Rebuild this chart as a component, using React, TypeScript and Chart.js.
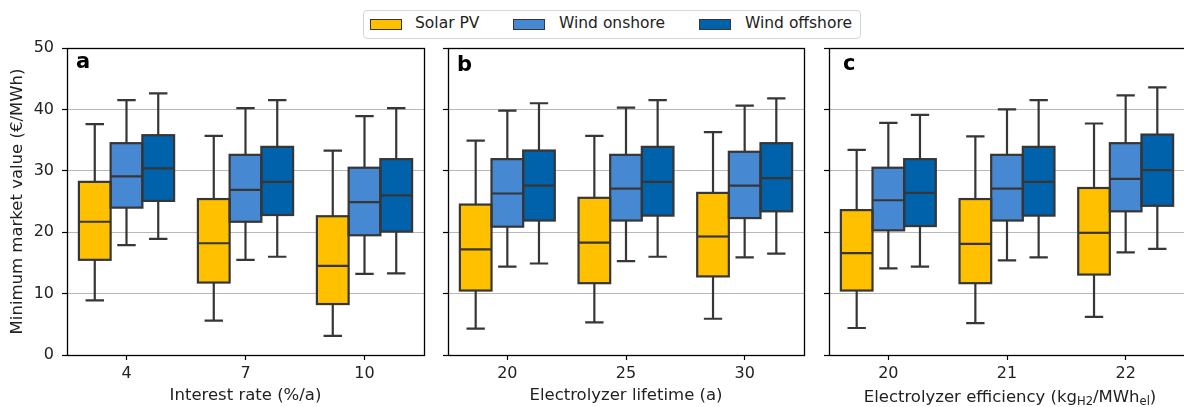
import React, { useEffect, useRef } from 'react';
import { Chart, registerables } from 'chart.js';

Chart.register(...registerables);

const FONT = "'DejaVu Sans', sans-serif";

const seriesNames = ['Solar PV', 'Wind onshore', 'Wind offshore'];
const seriesColors = ['#FFC000', '#4689D2', '#0062AA'];

const catsA = ['4', '7', '10'];
const catsB = ['20', '25', '30'];
const catsC = ['20', '21', '22'];

const yTicks = [0, 10, 20, 30, 40, 50];

// [lower whisker, Q1, median, Q3, upper whisker] for each category
const solarA = [[8.9, 15.5, 21.7, 28.2, 37.6], [5.6, 11.8, 18.2, 25.4, 35.7], [3.1, 8.3, 14.5, 22.6, 33.3]];
const onshoreA = [[17.9, 24.0, 29.1, 34.5, 41.5], [15.5, 21.7, 26.9, 32.6, 40.2], [13.2, 19.5, 24.9, 30.5, 38.9]];
const offshoreA = [[18.9, 25.1, 30.4, 35.8, 42.6], [16.0, 22.8, 28.2, 33.9, 41.5], [13.3, 20.1, 26.0, 31.9, 40.2]];

const solarB = [[4.3, 10.5, 17.2, 24.5, 34.9], [5.3, 11.7, 18.3, 25.6, 35.7], [5.9, 12.8, 19.3, 26.4, 36.3]];
const onshoreB = [[14.4, 20.9, 26.3, 31.9, 39.8], [15.3, 21.9, 27.1, 32.6, 40.3], [15.9, 22.3, 27.6, 33.1, 40.6]];
const offshoreB = [[14.9, 21.9, 27.6, 33.3, 41.0], [16.0, 22.7, 28.2, 33.9, 41.5], [16.5, 23.4, 28.8, 34.5, 41.8]];

const solarC = [[4.4, 10.5, 16.6, 23.6, 33.4], [5.2, 11.7, 18.1, 25.4, 35.6], [6.2, 13.1, 19.9, 27.2, 37.7]];
const onshoreC = [[14.1, 20.3, 25.2, 30.5, 37.8], [15.4, 21.9, 27.1, 32.6, 40.0], [16.7, 23.4, 28.7, 34.5, 42.3]];
const offshoreC = [[14.4, 21.0, 26.4, 31.9, 39.1], [15.9, 22.7, 28.2, 33.9, 41.5], [17.3, 24.3, 30.1, 35.9, 43.6]];

const panelLetters = ['a', 'b', 'c'];
const xTitles = ['Interest rate (%/a)', 'Electrolyzer lifetime (a)', ''];
const yTitle = 'Minimum market value (€/MWh)';

const CANVAS_W = 1186;
const CANVAS_H = 407;

type PanelDef = {
  cats: string[];
  series: number[][][];
  letter: string;
  xTitle: string;
  left: number;
  right: number;
  yAxisWidth: number;
  showYLabels: boolean;
  letterDx: number;
  letterDy: number;
  subTitle: boolean;
};

const panels: PanelDef[] = [
  { cats: catsA, series: [solarA, onshoreA, offshoreA], letter: panelLetters[0], xTitle: xTitles[0], left: 67, right: 424, yAxisWidth: 67, showYLabels: true, letterDx: 9, letterDy: 20, subTitle: false },
  { cats: catsB, series: [solarB, onshoreB, offshoreB], letter: panelLetters[1], xTitle: xTitles[1], left: 448, right: 804, yAxisWidth: 10, showYLabels: false, letterDx: 9, letterDy: 23, subTitle: false },
  { cats: catsC, series: [solarC, onshoreC, offshoreC], letter: panelLetters[2], xTitle: xTitles[2], left: 829, right: 1185, yAxisWidth: 10, showYLabels: false, letterDx: 14, letterDy: 22, subTitle: true },
];

const EDGE = '#363636';

const boxPlugin = {
  id: 'boxWhiskers',
  afterDatasetsDraw(chart: any) {
    const ctx = chart.ctx;
    const yScale = chart.scales.y;
    ctx.save();
    ctx.strokeStyle = EDGE;
    ctx.lineWidth = 2.2;
    ctx.lineCap = 'butt';
    chart.data.datasets.forEach((ds: any, i: number) => {
      const meta = chart.getDatasetMeta(i);
      meta.data.forEach((bar: any, j: number) => {
        const { x, width } = bar.getProps(['x', 'width'], true);
        const st = ds.stats[j];
        const py = st.map((v: number) => yScale.getPixelForValue(v));
        const l = x - width / 2;
        const r = x + width / 2;
        const cw = width * 0.58;
        ctx.beginPath();
        ctx.moveTo(x, py[3]);
        ctx.lineTo(x, py[4]);
        ctx.moveTo(x - cw / 2, py[4]);
        ctx.lineTo(x + cw / 2, py[4]);
        ctx.moveTo(x, py[1]);
        ctx.lineTo(x, py[0]);
        ctx.moveTo(x - cw / 2, py[0]);
        ctx.lineTo(x + cw / 2, py[0]);
        ctx.stroke();
        ctx.strokeRect(l, py[3], r - l, py[1] - py[3]);
        ctx.beginPath();
        ctx.moveTo(l, py[2]);
        ctx.lineTo(r, py[2]);
        ctx.stroke();
      });
    });
    ctx.restore();
  },
};

const framePlugin = {
  id: 'frameAndLetter',
  afterDraw(chart: any) {
    const ctx = chart.ctx;
    const { left, right, top, bottom } = chart.chartArea;
    const po = chart.options.plugins.frameAndLetter || {};
    ctx.save();
    ctx.strokeStyle = '#000';
    ctx.lineWidth = 1.3;
    ctx.strokeRect(Math.round(left) + 0.5, Math.round(top) + 0.5, Math.round(right) - Math.round(left), Math.round(bottom) - Math.round(top));
    ctx.fillStyle = '#000';
    ctx.font = `bold 21px ${FONT}`;
    ctx.textBaseline = 'alphabetic';
    ctx.textAlign = 'left';
    ctx.fillText(po.letter, left + po.dx, top + po.dy);
    if (po.subTitle) {
      const parts: [string, boolean][] = [
        ['Electrolyzer efficiency (kg', false],
        ['H2', true],
        ['/MWh', false],
        ['el', true],
        [')', false],
      ];
      const mainFont = `16.5px ${FONT}`;
      const subFont = `11.5px ${FONT}`;
      let total = 0;
      const widths = parts.map(([t, s]) => {
        ctx.font = s ? subFont : mainFont;
        const w = ctx.measureText(t).width;
        total += w;
        return w;
      });
      let x = (left + right) / 2 - total / 2 + 3;
      const baseY = 401.5;
      ctx.fillStyle = '#222';
      parts.forEach(([t, s], k) => {
        ctx.font = s ? subFont : mainFont;
        ctx.fillText(t, x, s ? baseY + 3.5 : baseY);
        x += widths[k];
      });
    }
    ctx.restore();
  },
};

function makeConfig(p: PanelDef): any {
  return {
    type: 'bar',
    data: {
      labels: p.cats,
      datasets: p.series.map((s, i) => ({
        label: seriesNames[i],
        data: s.map((v) => [v[1], v[3]]),
        stats: s,
        backgroundColor: seriesColors[i],
        borderWidth: 0,
        categoryPercentage: 0.8,
        barPercentage: 1.0,
      })),
    },
    options: {
      responsive: false,
      animation: false,
      events: [],
      layout: { padding: { left: p.left - p.yAxisWidth, right: CANVAS_W - p.right, top: 48, bottom: 0 } },
      plugins: {
        legend: { display: false },
        tooltip: { enabled: false },
        frameAndLetter: { letter: p.letter, dx: p.letterDx, dy: p.letterDy, subTitle: p.subTitle },
      },
      scales: {
        x: {
          type: 'category',
          offset: true,
          grid: { offset: false, drawOnChartArea: false, drawTicks: true, tickLength: 5, tickColor: '#000', tickWidth: 1.2 },
          border: { display: false },
          ticks: { color: '#222', font: { family: FONT, size: 16 }, padding: 4, maxRotation: 0, autoSkip: false },
          title: { display: !p.subTitle, text: p.xTitle, color: '#222', font: { family: FONT, size: 16.5 }, padding: { top: 0, bottom: 1 } },
          afterFit: (s: any) => { s.height = 52; },
        },
        y: {
          type: 'linear',
          min: yTicks[0],
          max: yTicks[yTicks.length - 1],
          afterBuildTicks: (s: any) => { s.ticks = yTicks.map((v) => ({ value: v })); },
          ticks: { display: p.showYLabels, color: '#222', font: { family: FONT, size: 16 }, padding: 8 },
          grid: { color: '#b8b8b8', lineWidth: 1, drawTicks: true, tickLength: 5, tickColor: '#000', tickWidth: 1.2 },
          border: { display: false },
          title: { display: p.showYLabels, text: yTitle, color: '#222', font: { family: FONT, size: 16.5 }, padding: { top: 8, bottom: 0 } },
          afterFit: (s: any) => { s.width = p.yAxisWidth; },
        },
      },
    },
    plugins: [boxPlugin, framePlugin],
  };
}

function Panel({ def }: { def: PanelDef }) {
  const ref = useRef<HTMLCanvasElement | null>(null);
  useEffect(() => {
    if (!ref.current) return;
    const chart = new Chart(ref.current, makeConfig(def));
    return () => chart.destroy();
  }, [def]);
  return (
    <canvas
      ref={ref}
      width={CANVAS_W}
      height={CANVAS_H}
      style={{ position: 'absolute', left: 0, top: 0, width: CANVAS_W, height: CANVAS_H }}
    />
  );
}

const legendPatchX = [6, 149, 335];
const legendTextX = [51, 195, 381];

function Legend() {
  return (
    <div
      style={{
        position: 'absolute',
        left: 363,
        top: 10,
        width: 498,
        height: 29,
        boxSizing: 'border-box',
        border: '1px solid #d6d6d6',
        borderRadius: 4,
        background: '#fff',
        fontFamily: FONT,
        fontSize: 15.5,
        color: '#222',
        zIndex: 5,
      }}
    >
      {seriesNames.map((n, i) => (
        <React.Fragment key={n}>
          <div
            style={{
              position: 'absolute',
              left: legendPatchX[i],
              top: 8,
              width: 32,
              height: 11,
              boxSizing: 'border-box',
              border: `1px solid ${EDGE}`,
              background: seriesColors[i],
            }}
          />
          <div style={{ position: 'absolute', left: legendTextX[i], top: 3, lineHeight: '18px', whiteSpace: 'nowrap' }}>{n}</div>
        </React.Fragment>
      ))}
    </div>
  );
}

export default function App() {
  return (
    <div style={{ position: 'absolute', left: 0, top: 0, width: 1184, height: 407, overflow: 'hidden', background: '#fff' }}>
      {panels.map((p) => (
        <Panel key={p.letter} def={p} />
      ))}
      <Legend />
    </div>
  );
}
